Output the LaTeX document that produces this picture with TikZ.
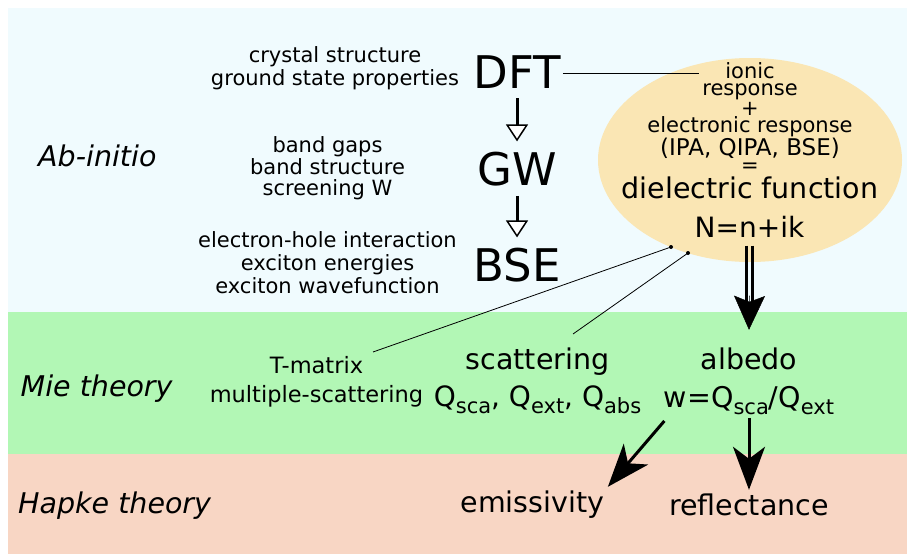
\documentclass[tikz,border=0pt]{standalone}
\usepackage{fontspec}
\setmainfont{DejaVu Sans}
\usetikzlibrary{arrows.meta,shapes.geometric}
\definecolor{abinitbg}{HTML}{F0FBFE}
\definecolor{miebg}{HTML}{B2F7B5}
\definecolor{hapkebg}{HTML}{F8D6C4}
\definecolor{epsfill}{HTML}{FAE6B4}
\newcommand{\lowidx}[1]{\raisebox{-0.25em}{\fontsize{21}{21}\selectfont #1}}

\begin{document}
\begin{tikzpicture}[x=1pt, y=-1pt,
  note/.style={font=\fontsize{21}{25}\selectfont, anchor=base},
  method/.style={font=\fontsize{45}{45}\selectfont, anchor=base, inner xsep=2pt, inner ysep=10pt},
  quantity/.style={font=\fontsize{28.5}{30}\selectfont, anchor=base},
  theory/.style={font=\fontsize{28.5}{30}\selectfont\itshape, anchor=base west, inner sep=0pt},
  openarrow/.style={line width=3pt, -{Triangle[length=17pt, width=22pt, fill=white, line width=1.5pt]}},
  bigarrow/.style={line width=3pt, -{Stealth[length=43pt, width=32pt, inset=12pt]}}]
\useasboundingbox (0,0) rectangle (907,554);
\foreach \ya/\yb/\col in {8/312/abinitbg, 312/454/miebg, 454/554/hapkebg}
  \fill[\col] (8,\ya) rectangle (907,\yb);

% theories
\node[theory] (abinit) at (38,166) {Ab-initio};
\node[theory] (mie) at (20.5,396) {Mie theory};
\node[theory] (hapke) at (18,513) {Hapke theory};

% dielectric response
\node[ellipse, fill=epsfill, minimum width=304pt, minimum height=204pt] (eps) at (750,160) {};
\foreach \y/\txt [count=\i] in {78/ionic, 95/response, 115/+, 132/electronic response, 172.5/=}
  \node[note, inner sep=0pt] (eps\i) at (750,\y) {\txt};
\node[note, inner sep=0pt, font=\fontsize{23}{25}\selectfont] (ipa) at (750,155) {(IPA, QIPA, BSE)};
\node[quantity, inner sep=0pt] (diel) at (750,198) {dielectric function};
\node[quantity, font=\fontsize{28}{30}\selectfont] (nk) at (749.5,237) {N=n+ik};

% ab-initio chain
\node[method] (dft) at (517,88) {DFT};
\node[method] (gw) at (517,185) {GW};
\node[method] (bse) at (517,281) {BSE};
\draw[openarrow] (dft.south) -- (gw.north);
\draw[openarrow] (gw.south) -- (bse.north);
\foreach \x/\y/\txt [count=\i] in {335/62/crystal structure, 335/85/ground state properties,
    327.5/152/band gaps, 327.5/174/band structure, 327.5/195/screening W,
    327.5/247/electron-hole interaction, 327.5/270/exciton energies, 327.5/293/exciton wavefunction}
  \node[note] (info\i) at (\x,\y) {\txt};
\coordinate (dftend) at (699,0);
\draw[line width=0.8pt] ([yshift=-1.5pt]dft.east) -- ([yshift=-1.5pt]dft.east -| dftend);

% Mie theory
\node[note, font=\fontsize{22.5}{25}\selectfont] (tmat) at (316.5,373) {T-matrix};
\node[note, font=\fontsize{22.5}{25}\selectfont] (multi) at (316.5,402) {multiple-scattering};
\node[quantity] (scat) at (537.5,369) {scattering};
\node[quantity, font=\fontsize{28}{30}\selectfont] (qs) at (537.5,406) {Q\lowidx{sca}, Q\lowidx{ext}, Q\lowidx{abs}};
\node[quantity] (albedo) at (749,369) {albedo};
\node[quantity] (wq) at (749,407) {w=Q\lowidx{sca}/Q\lowidx{ext}};

% Hapke theory
\node[quantity] (emis) at (532.5,512) {emissivity};
\node[quantity] (refl) at (749,515) {reflectance};

% connectors
\coordinate (d1) at (671,247);
\coordinate (d2) at (688,253);
\coordinate (tend) at (373,352);
\coordinate (send) at (573,334);
\draw[line width=0.8pt] (d1) -- (tend);
\draw[line width=0.8pt] (d2) -- (send);
\fill (d1) circle (2);
\fill (d2) circle (2);
\foreach \dx in {-3.2,3.2}
  \draw[line width=3.5pt] ([xshift=\dx pt]nk.south) ++(0,5) -- ++(0,60);
\draw[line width=0.5pt, -{Stealth[length=34pt, width=31pt, inset=6pt]}] ([yshift=-55pt]nk.south) -- ([yshift=14pt]albedo.north);
\draw[bigarrow] ([xshift=4pt, yshift=-3pt]wq.south west) -- (emis.north east);
\draw[bigarrow] (wq.south) -- (refl.north);
\end{tikzpicture}
\end{document}
